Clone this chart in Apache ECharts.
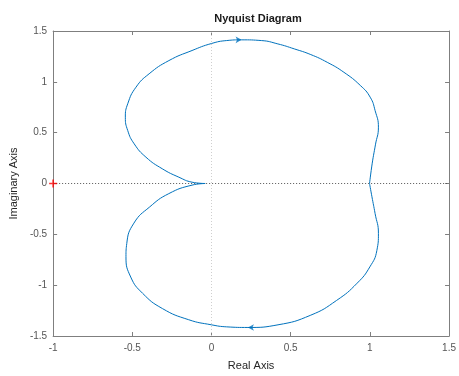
<!DOCTYPE html>
<html>
<head>
<meta charset="utf-8">
<script src="https://cdn.jsdelivr.net/npm/echarts@6/dist/echarts.min.js"></script>
<style>html,body{margin:0;padding:0;background:#fff}#c{width:459px;height:376px}</style>
</head>
<body>
<div id="c"></div>
<script>
// Upper branch (positive imaginary part)
const upperReal = [0.998, 1.015, 1.035, 1.054, 1.033, 1.002, 0.940, 0.836, 0.731, 0.627, 0.523, 0.419, 0.315, 0.190, 0.096, 0.000, -0.123, -0.269, -0.394, -0.477, -0.529, -0.544, -0.529, -0.488, -0.414, -0.311, -0.206, -0.123, -0.040];
const upperImag = [0.000, 0.200, 0.380, 0.554, 0.718, 0.849, 0.964, 1.094, 1.192, 1.268, 1.324, 1.373, 1.406, 1.413, 1.406, 1.377, 1.308, 1.209, 1.079, 0.947, 0.784, 0.652, 0.521, 0.390, 0.259, 0.145, 0.062, 0.013, 0.000];
// Lower branch (negative imaginary part)
const lowerReal = [0.998, 1.013, 1.033, 1.054, 1.044, 1.000, 0.920, 0.790, 0.627, 0.420, 0.230, 0.096, 0.000, -0.144, -0.310, -0.435, -0.510, -0.540, -0.535, -0.490, -0.390, -0.270, -0.123, -0.040];
const lowerImag = [0.000, -0.130, -0.295, -0.490, -0.660, -0.820, -0.980, -1.150, -1.295, -1.390, -1.416, -1.410, -1.390, -1.340, -1.230, -1.080, -0.920, -0.720, -0.590, -0.390, -0.230, -0.100, -0.016, 0.000];
// Direction arrows
const arrowPoints = [[0.19, 1.413], [0.23, -1.416]];
const arrowRotate = [-90, 90];
// Critical point
const criticalPoint = [-1, 0];
// Axis ticks
const xTicks = [-1, -0.5, 0, 0.5, 1, 1.5];
const yTicks = [-1.5, -1, -0.5, 0, 0.5, 1, 1.5];

const zip = (a, b) => a.map((v, i) => [v, b[i]]);
const xMin = xTicks[0], xMax = xTicks[xTicks.length - 1];
const yMin = yTicks[0], yMax = yTicks[yTicks.length - 1];

const blue = '#0072BD';
const axisColor = '#7f7f7f';
const labelColor = '#555';
const font = '"Liberation Sans", Arial, sans-serif';

const chart = echarts.init(document.getElementById('c'), null, {renderer: 'canvas'});

const xAxisBase = {
  type: 'value', min: xMin, max: xMax, interval: 0.5,
  axisLine: {show: true, onZero: false, lineStyle: {color: axisColor, width: 1}},
  axisTick: {show: true, inside: true, length: 4, lineStyle: {color: axisColor}},
  splitLine: {show: false}
};
const yAxisBase = {
  type: 'value', min: yMin, max: yMax, interval: 0.5,
  axisLine: {show: true, onZero: false, lineStyle: {color: axisColor, width: 1}},
  axisTick: {show: true, inside: true, length: 4, lineStyle: {color: axisColor}},
  splitLine: {show: false}
};

chart.setOption({
  animation: false,
  backgroundColor: '#fff',
  title: {
    text: 'Nyquist Diagram', left: 253, top: 8, textAlign: 'center',
    textStyle: {fontFamily: font, fontSize: 11, fontWeight: 'bold', color: '#1a1a1a'}
  },
  grid: {left: 53, right: 6, top: 31, bottom: 40, containLabel: false},
  xAxis: [
    Object.assign({}, xAxisBase, {
      position: 'bottom',
      name: 'Real Axis', nameLocation: 'middle', nameGap: 24,
      nameTextStyle: {fontFamily: font, fontSize: 11, color: '#262626'},
      axisLabel: {show: true, margin: 7, fontFamily: font, fontSize: 10, color: labelColor,
        formatter: v => String(v)}
    }),
    Object.assign({}, xAxisBase, {position: 'top', axisLabel: {show: false}})
  ],
  yAxis: [
    Object.assign({}, yAxisBase, {
      position: 'left',
      name: 'Imaginary Axis', nameLocation: 'middle', nameGap: 31, nameRotate: 90,
      nameTextStyle: {fontFamily: font, fontSize: 11, color: '#262626'},
      axisLabel: {show: true, margin: 6, fontFamily: font, fontSize: 10, color: labelColor,
        formatter: v => String(v)}
    }),
    Object.assign({}, yAxisBase, {position: 'right', axisLabel: {show: false}})
  ],
  series: [
    {
      type: 'line', data: [[0, yMin], [0, yMax]], symbol: 'none', silent: true,
      lineStyle: {color: '#cfcfcf', width: 1, type: [1, 2]}, z: 1
    },
    {
      type: 'line', data: [[xMin, 0], [xMax, 0]], symbol: 'none', silent: true,
      lineStyle: {color: '#555', width: 1, type: [1, 2]}, z: 1
    },
    {
      type: 'line', data: zip(upperReal, upperImag), symbol: 'none', smooth: 0.5,
      lineStyle: {color: blue, width: 1}, z: 3
    },
    {
      type: 'line', data: zip(lowerReal, lowerImag), symbol: 'none', smooth: 0.5,
      lineStyle: {color: blue, width: 1}, z: 3
    },
    {
      type: 'scatter', data: arrowPoints.map((p, i) => ({value: p, symbolRotate: arrowRotate[i]})),
      symbol: 'arrow', symbolSize: [5, 6], itemStyle: {color: blue}, z: 4
    },
    {
      type: 'scatter', data: [criticalPoint],
      symbol: 'path://M4,0H6V4H10V6H6V10H4V6H0V4H4Z', symbolSize: 8,
      itemStyle: {color: '#ff0000'}, z: 5
    }
  ]
});
</script>
</body>
</html>
